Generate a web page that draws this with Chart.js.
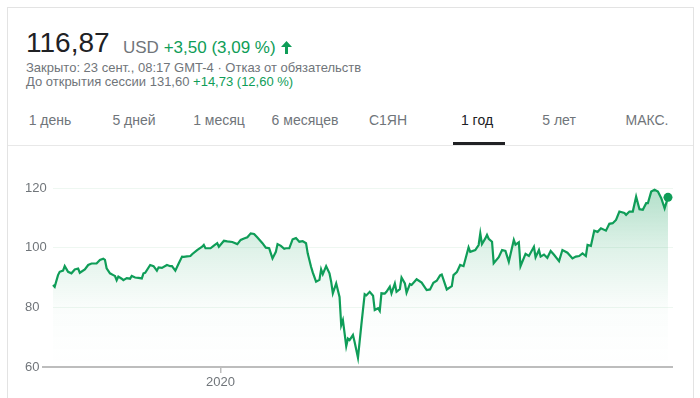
<!DOCTYPE html>
<html>
<head>
<meta charset="utf-8">
<script src="https://cdn.jsdelivr.net/npm/chart.js@4"></script>
<style>
  body { margin: 0; width: 700px; height: 398px; background: #fff; overflow: hidden; position: relative;
         font-family: Arial, 'Liberation Sans', sans-serif; }
  .card { position: absolute; left: 7px; top: 7px; width: 685px; height: 400px;
          border: 1px solid #e3e3e3; border-bottom: none; }
  .t { position: absolute; white-space: nowrap; line-height: 1; }
  .gray { color: #70757a; }
  .green { color: #0f9d58; }
  .tab { position: absolute; top: 113px; font-size: 14px; line-height: 14px; color: #70757a;
         transform: translateX(-50%); white-space: nowrap; }
  .tab.active { color: #202124; }
  #chartBox { position: absolute; left: 0; top: 150px; width: 700px; height: 248px; }
</style>
</head>
<body>
<div class="card"></div>

<div class="t" style="left:26px; top:29px; font-size:28px; color:#202124;">116,87</div>
<div class="t" style="left:123px; top:38.5px; font-size:17px;">
  <span class="gray">USD</span> <span class="green">+3,50 (3,09 %)</span>
  <svg width="11" height="13" viewBox="0 0 11 13" style="vertical-align:-1px; margin-left:1px;">
    <path d="M5.5 0 L11 6 L7 6 L7 13 L4 13 L4 6 L0 6 Z" fill="#0f9d58"/>
  </svg>
</div>
<div class="t gray" style="left:26px; top:60.5px; font-size:13px;">Закрыто: 23 сент., 08:17 GMT-4 · Отказ от обязательств</div>
<div class="t gray" style="left:26px; top:75px; font-size:13px;">До открытия сессии 131,60 <span class="green">+14,73 (12,60 %)</span></div>

<div class="tab" style="left:50px;">1 день</div>
<div class="tab" style="left:134px;">5 дней</div>
<div class="tab" style="left:219px;">1 месяц</div>
<div class="tab" style="left:305px;">6 месяцев</div>
<div class="tab" style="left:388px;">С1ЯН</div>
<div class="tab active" style="left:477px;">1 год</div>
<div class="tab" style="left:559px;">5 лет</div>
<div class="tab" style="left:647px;">МАКС.</div>
<div style="position:absolute; left:453px; top:142px; width:52px; height:3px; background:#202124;"></div>
<div style="position:absolute; left:8px; top:145px; width:685px; height:1px; background:#e8e8e8;"></div>

<div id="chartBox"><canvas id="priceChart" width="700" height="248"></canvas></div>

<script>
// days since 23 Sep 2019
const days = [
    0, 1, 3, 4, 6, 7, 9, 11, 13, 15,
    16, 19, 21, 23, 26, 28, 30, 31, 32, 34,
    36, 37, 38, 39, 41, 42, 44, 46, 47, 49,
    51, 53, 54, 55, 58, 60, 62, 63, 65, 68,
    70, 71, 73, 75, 77, 78, 80, 82, 83, 86,
    89, 90, 91, 94, 96, 98, 99, 102, 104, 107,
    110, 112, 114, 116, 118, 120, 122, 125, 127, 129,
    130, 131, 133, 134, 136, 138, 139, 141, 143, 145,
    147, 149, 151, 152, 154, 155, 157, 159, 160, 161,
    163, 165, 166, 167, 169, 171, 172, 173, 175, 176,
    177, 179, 180, 182, 184, 186, 187, 189, 191, 192,
    194, 195, 196, 198, 199, 201, 202, 204, 205, 207,
    208, 210, 211, 213, 214, 217, 220, 223, 225, 227,
    229, 231, 232, 235, 238, 239, 241, 243, 245, 248,
    249, 252, 254, 255, 256, 258, 259, 260, 262, 263,
    266, 268, 270, 272, 275, 276, 278, 279, 282, 284,
    287, 288, 290, 291, 293, 295, 297, 299, 302, 304,
    307, 310, 312, 314, 316, 318, 319, 321, 323, 325,
    327, 330, 332, 334, 336, 338, 341, 342, 344, 346,
    348, 350, 352, 354, 355, 357, 359, 361, 363, 365,
    367
];

const prices = [
    87.5, 86.9, 90.8, 91.9, 92.3, 93.8, 91.9, 91.4, 92.7, 93.0,
    91.6, 92.7, 94.2, 94.7, 94.7, 95.9, 96.3, 95.9, 93.1, 91.4,
    90.8, 90.5, 89.1, 90.3, 89.6, 89.1, 89.8, 89.6, 90.5, 90.0,
    89.9, 89.7, 91.4, 91.6, 94.2, 93.8, 92.3, 93.4, 93.2, 94.2,
    93.8, 93.8, 92.3, 94.7, 97.0, 96.9, 97.1, 97.2, 97.8, 99.2,
    100.3, 100.9, 99.8, 99.8, 100.7, 101.5, 100.3, 102.3, 102.1, 101.9,
    101.2, 102.6, 103.1, 103.5, 104.8, 104.6, 103.4, 101.5, 100.0, 99.8,
    98.1, 96.4, 98.6, 101.2, 100.6, 99.6, 99.8, 99.8, 102.8, 103.2,
    102.0, 102.2, 101.5, 98.1, 93.6, 91.7, 88.6, 89.2, 92.7, 91.1,
    93.8, 91.4, 88.6, 84.7, 88.0, 83.5, 74.0, 75.7, 67.0, 69.5,
    69.0, 70.7, 68.4, 63.1, 74.0, 84.4, 84.0, 85.2, 83.9, 79.1,
    79.7, 78.8, 84.7, 84.6, 85.2, 86.9, 84.7, 88.0, 85.2, 86.1,
    90.0, 88.0, 84.9, 87.8, 87.5, 89.4, 88.3, 85.8, 86.0, 88.2,
    88.9, 90.7, 91.0, 86.0, 87.1, 90.8, 91.8, 94.2, 93.8, 100.1,
    98.6, 99.2, 100.9, 104.8, 101.2, 103.1, 104.3, 103.0, 102.0, 94.8,
    96.8, 99.2, 98.9, 95.3, 102.6, 101.0, 101.8, 93.8, 97.9, 97.2,
    100.3, 96.8, 99.2, 97.0, 97.7, 96.6, 98.9, 97.6, 95.5, 99.2,
    98.3, 96.4, 97.0, 97.2, 98.1, 97.2, 100.9, 100.6, 105.7, 105.3,
    106.5, 105.7, 108.0, 108.2, 109.3, 112.1, 111.6, 111.0, 112.1, 112.1,
    117.1, 112.9, 112.7, 114.9, 114.9, 118.8, 119.4, 118.8, 116.6, 113.2,
    116.87
];

const yTicks = [60, 80, 100, 120];
const yearTickDay = 100;   // 1 Jan 2020
const yearLabel = '2020';

const GREEN = '#0f9d58';
const TEXT_GRAY = '#70757a';
const AXIS_GRAY = '#bdbdbd';
const FONT = { family: "Arial, 'Liberation Sans', sans-serif", size: 13 };

const ctx = document.getElementById('priceChart').getContext('2d');

new Chart(ctx, {
    type: 'line',
    data: {
        datasets: [{
            data: days.map((d, i) => ({ x: d, y: prices[i] })),
            borderColor: GREEN,
            borderWidth: 2.2,
            tension: 0,
            fill: 'start',
            backgroundColor: (c) => {
                const area = c.chart.chartArea;
                if (!area) return 'rgba(15,157,88,0.1)';
                const g = c.chart.ctx.createLinearGradient(0, area.top, 0, area.bottom);
                g.addColorStop(0, 'rgba(15,157,88,0.32)');
                g.addColorStop(0.35, 'rgba(15,157,88,0.13)');
                g.addColorStop(0.67, 'rgba(15,157,88,0.02)');
                g.addColorStop(1, 'rgba(15,157,88,0)');
                return g;
            },
            pointRadius: (c) => c.dataIndex === prices.length - 1 ? 4.5 : 0,
            pointBackgroundColor: GREEN,
            pointBorderWidth: 0,
            clip: false
        }]
    },
    options: {
        responsive: false,
        animation: false,
        events: [],
        layout: { padding: { left: 25, right: 27, top: 38, bottom: 0 } },
        plugins: { legend: { display: false }, tooltip: { enabled: false } },
        scales: {
            x: {
                type: 'linear',
                min: 0,
                max: 370,
                afterBuildTicks: (s) => { s.ticks = [{ value: yearTickDay }]; },
                afterFit: (s) => { s.height = 31; },
                ticks: { callback: () => yearLabel, color: TEXT_GRAY, font: FONT, padding: 2, maxRotation: 0 },
                grid: { drawOnChartArea: false, tickLength: 6, color: AXIS_GRAY, lineWidth: 1.5 },
                border: { display: false }
            },
            y: {
                min: 60,
                max: 120,
                afterBuildTicks: (s) => { s.ticks = yTicks.map(v => ({ value: v })); },
                afterFit: (s) => { s.width = 28; },
                ticks: { crossAlign: 'far', color: TEXT_GRAY, font: FONT },
                grid: {
                    color: (c) => c.tick && c.tick.value === 60 ? AXIS_GRAY : '#eef7f1',
                    lineWidth: (c) => c.tick && c.tick.value === 60 ? 2 : 1,
                    tickLength: 11,
                    tickColor: (c) => c.tick && c.tick.value === 60 ? AXIS_GRAY : 'rgba(0,0,0,0)'
                },
                border: { display: false }
            }
        }
    }
});
</script>
</body>
</html>
